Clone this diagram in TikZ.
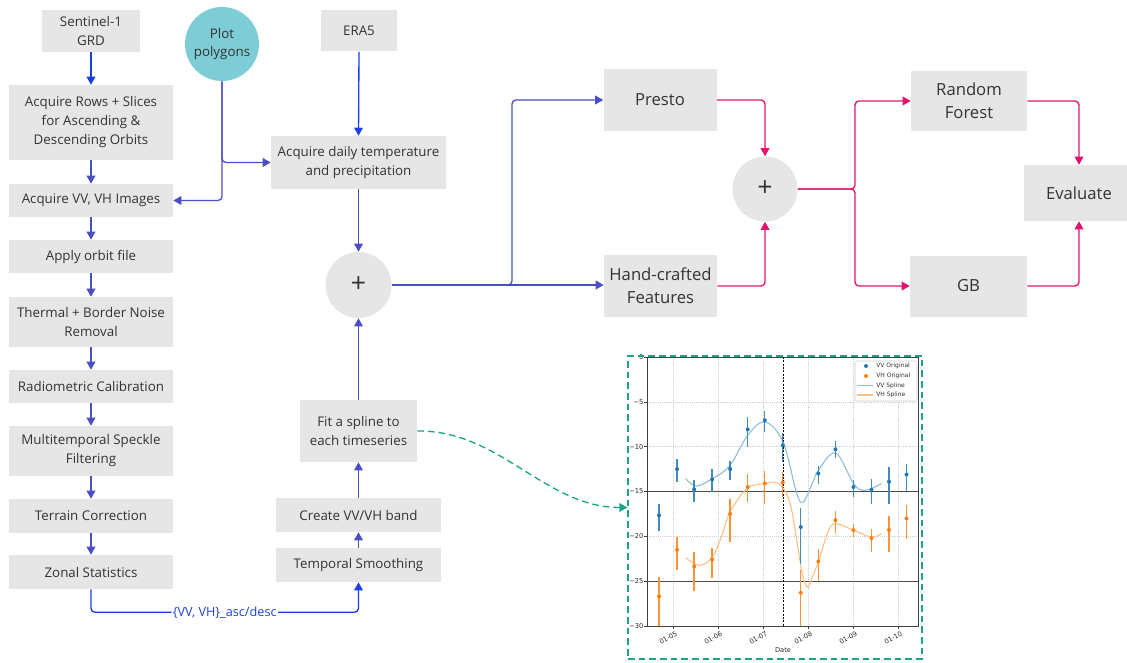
\documentclass[tikz,border=0pt]{standalone}
\usepackage{fontspec}
\setmainfont{Open Sans}
\newfontfamily\plotfont{DejaVu Sans}
\usetikzlibrary{arrows.meta}
\definecolor{boxgray}{HTML}{E6E6E6}
\definecolor{textdark}{HTML}{333333}
\definecolor{indigo}{HTML}{4A4FC4}
\definecolor{vivid}{HTML}{1D40E6}
\definecolor{pinkc}{HTML}{E3146B}
\definecolor{tealc}{HTML}{7ECDD6}
\definecolor{greenc}{HTML}{1BA584}
\definecolor{mplblue}{HTML}{1F77B4}
\definecolor{mplorange}{HTML}{FF7F0E}
\definecolor{gridc}{HTML}{D0D0D0}
\def\u{0.75pt}
\tikzset{
  box/.style={fill=boxgray, text=textdark, align=center, inner sep=0pt,
    font=\fontsize{10}{14.25}\selectfont},
  bigbox/.style={box, font=\fontsize{12.5}{17.25}\selectfont},
  plusc/.style={circle, fill=boxgray, text=textdark, inner sep=0pt,
    font=\fontsize{20}{20}\selectfont},
  tip/.style={-{Triangle[length=6pt,width=6.5pt]}},
  ind/.style={draw=indigo, line width=1pt, tip, rounded corners=3pt},
  viv/.style={draw=vivid, line width=1pt, tip, rounded corners=3pt},
  pk/.style={draw=pinkc, line width=1pt, tip, rounded corners=3pt},
  ticklab/.style={font=\plotfont\fontsize{5}{6}\selectfont, text=black!85, inner sep=0.5pt},
  leglab/.style={font=\plotfont\fontsize{4.5}{5}\selectfont, text=black!80, inner sep=0pt, anchor=west},
}
\begin{document}
\begin{tikzpicture}[x=0.75pt,y=-0.75pt]
\useasboundingbox (0,0) rectangle (1127,663);

% ---------- left column ----------
\node[box, minimum width=98*\u, minimum height=42*\u] (s1) at (91,31) {Sentinel-1\\GRD};
\node[circle, fill=tealc, text=textdark, inner sep=0pt, minimum size=74*\u, align=center,
  font=\fontsize{10}{14}\selectfont] (pp) at (222,44) {Plot\\polygons};
\node[box, minimum width=76*\u, minimum height=41*\u] (era) at (359,31) {ERA5};
\node[box, minimum width=164*\u, minimum height=75*\u] (rows) at (91,122.5) {Acquire Rows + Slices\\for Ascending \&\\Descending Orbits};
\node[box, minimum width=164*\u, minimum height=33*\u] (vv) at (91,200.5) {Acquire VV, VH Images};
\node[box, minimum width=175*\u, minimum height=53*\u] (daily) at (358.5,162.5) {Acquire daily temperature\\and precipitation};
\node[box, minimum width=164*\u, minimum height=33*\u] (orbit) at (91,256.5) {Apply orbit file};
\node[box, minimum width=164*\u, minimum height=50*\u] (therm) at (91,322) {Thermal + Border Noise\\Removal};
\node[box, minimum width=164*\u, minimum height=33*\u] (radio) at (91,386.5) {Radiometric Calibration};
\node[box, minimum width=164*\u, minimum height=50*\u] (speck) at (91,451) {Multitemporal Speckle\\Filtering};
\node[box, minimum width=164*\u, minimum height=34*\u] (terr) at (91,516) {Terrain Correction};
\node[box, minimum width=164*\u, minimum height=34*\u] (zonal) at (91,572) {Zonal Statistics};

% ---------- middle column ----------
\node[plusc, minimum size=66*\u] (p1) at (358.5,285) {+};
\node[box, minimum width=117*\u, minimum height=62*\u] (fit) at (358.5,431) {Fit a spline to\\each timeseries};
\node[box, minimum width=165*\u, minimum height=34*\u] (create) at (358.5,515) {Create VV/VH band};
\node[box, minimum width=165*\u, minimum height=34*\u] (temp) at (358.5,565) {Temporal Smoothing};

% ---------- right part ----------
\node[bigbox, minimum width=113*\u, minimum height=62*\u] (presto) at (660,100) {Presto};
\node[bigbox, minimum width=113*\u, minimum height=62*\u] (hand) at (660.5,286) {Hand-crafted\\Features};
\node[plusc, minimum size=65*\u] (p2) at (765,189) {+};
\node[bigbox, minimum width=116*\u, minimum height=60*\u] (rf) at (969,101) {Random\\Forest};
\node[bigbox, minimum width=117*\u, minimum height=61*\u] (gb) at (968.5,286) {GB};
\node[bigbox, minimum width=110*\u, minimum height=56*\u] (eval) at (1079,193) {Evaluate};

% ---------- connectors ----------
\draw[viv] (s1.south) -- (rows.north);
\draw[ind] (rows.south) -- (vv.north);
\draw[ind] (vv.south) -- (orbit.north);
\draw[ind] (orbit.south) -- (therm.north);
\draw[ind] (therm.south) -- (radio.north);
\draw[ind] (radio.south) -- (speck.north);
\draw[ind] (speck.south) -- (terr.north);
\draw[ind] (terr.south) -- (zonal.north);
\draw[ind] (pp.south) |- (vv.east);
\draw[ind] (pp.south) |- (daily.west);
\draw[viv] (era.south) -- (daily.north);
\draw[ind] (daily.south) -- (p1.north);
\draw[ind] (fit.north) -- (p1.south);
\draw[ind] (create.north) -- (fit.south);
\draw[ind] (temp.north) -- (create.south);
\draw[viv] (zonal.south) -- ++(0,23) coordinate (zb)
  -- node[fill=white, inner sep=1pt, text=vivid, font=\fontsize{9.5}{11}\selectfont] (lbl) {\{VV, VH\}\_asc/desc}
  (zb -| temp.south) -- (temp.south);
\coordinate (sp1) at (512,285);
\draw[ind] (p1.east) -- (sp1) |- (presto.west);
\draw[ind] (p1.east) -- (p1.east -| hand.west);
\draw[pk] (presto.east) -| (p2.north);
\draw[pk] (hand.east) -| (p2.south);
\coordinate (sp2) at (855,189);
\draw[pk] (p2.east) -- (sp2) |- (rf.west);
\draw[pk] (p2.east) -- (sp2) |- (gb.west);
\draw[pk] (rf.east) -| (eval.north);
\draw[pk] (gb.east) -| (eval.south);

% ---------- chart ----------
\begin{scope}[shift={(448,357)}, x=33.75pt, y=6.725pt]
  \foreach \m in {5,...,10} \draw[gridc, densely dotted, line width=0.4pt] (\m,0) -- (\m,-30);
  \foreach \v in {-5,-10,-20} \draw[gridc, densely dotted, line width=0.4pt] (4.422,\v) -- (10.444,\v);
  \draw[black!70, line width=0.7pt] (4.422,-15) -- (10.444,-15);
  \draw[black!70, line width=0.7pt] (4.422,-25) -- (10.444,-25);
  \draw[black, dash pattern=on 1.5pt off 1pt, line width=0.5pt] (7.444,0) -- (7.444,-30);
  \begin{scope}
    \clip (4.422,0) rectangle (10.444,-30);
    \draw[mplblue!50!white, line width=0.8pt] plot[smooth, tension=0.6] coordinates {
      (5.281,-13.57) (5.519,-14.39) (5.874,-13.57) (6.267,-12.08) (6.659,-8.74) (7.044,-7.25)
      (7.444,-9.48) (7.741,-15.06) (7.889,-16.17) (8.111,-13.94) (8.230,-12.64) (8.615,-10.71)
      (9.015,-14.13) (9.259,-14.87) (9.63,-14.13)};
    \draw[mplorange!50!white, line width=0.8pt] plot[smooth, tension=0.6] coordinates {
      (5.281,-22.38) (5.593,-23.23) (5.874,-22.30) (6.074,-20.07) (6.267,-17.29) (6.659,-14.61)
      (7.044,-14.13) (7.259,-13.94) (7.444,-14.61) (7.630,-16.91) (7.852,-23.61) (7.985,-25.65)
      (8.111,-24.35) (8.230,-22.86) (8.444,-19.52) (8.615,-18.59) (9.015,-19.33) (9.407,-20.07)
      (9.630,-19.70)};
    \foreach \m/\v/\lo/\hi in {4.69/-17.66/-16.4/-19.4, 5.09/-12.5/-11.4/-13.9, 5.47/-14.76/-13.7/-16.2,
      5.87/-13.64/-12.5/-15.1, 6.27/-12.5/-11.6/-13.75, 6.66/-8.07/-6.7/-10.0, 7.04/-7.06/-6.0/-8.4,
      7.44/-9.85/-8.5/-11.7, 7.84/-18.96/-16.8/-23.05, 8.23/-13.0/-12.1/-14.2, 8.61/-10.3/-9.4/-11.3,
      9.01/-14.5/-13.75/-15.6, 9.41/-14.8/-13.6/-16.4, 9.80/-13.9/-12.3/-16.4, 10.19/-13.1/-11.9/-14.9}{
      \draw[mplblue!85!white, line width=1pt] (\m,\lo) -- (\m,\hi);
      \fill[mplblue] (\m,\v) circle[radius=1.5pt];
    }
    \foreach \m/\v/\lo/\hi in {4.69/-26.7/-24.5/-30.5, 5.09/-21.5/-20.1/-23.7, 5.47/-23.35/-21.7/-26.1,
      5.87/-22.6/-21.3/-24.6, 6.27/-17.5/-15.8/-20.6, 6.66/-14.5/-13.1/-16.2, 7.04/-14.1/-12.7/-16.4,
      7.44/-14.0/-12.8/-15.6, 7.84/-26.3/-23.7/-30.5, 8.23/-22.8/-21.45/-25.0, 8.61/-18.2/-17.2/-19.6,
      9.01/-19.3/-18.6/-20.1, 9.41/-20.2/-19.2/-21.75, 9.80/-19.3/-17.7/-21.75, 10.19/-18.0/-16.5/-20.3}{
      \draw[mplorange!85!white, line width=1pt] (\m,\lo) -- (\m,\hi);
      \fill[mplorange] (\m,\v) circle[radius=1.5pt];
    }
  \end{scope}
  \draw[black!75, line width=0.5pt] (4.422,0) rectangle (10.444,-30);
  \foreach \v/\t in {0/0,-5/−5,-10/−10,-15/−15,-20/−20,-25/−25,-30/−30}{
    \draw[black!75, line width=0.4pt] (4.422,\v) -- ++(-2pt,0);
    \node[ticklab, anchor=east] (yl\v) at ([xshift=-2pt]4.422,\v) {\t};
  }
  \foreach \m/\t in {5/01-05,6/01-06,7/01-07,8/01-08,9/01-09,10/01-10}{
    \draw[black!75, line width=0.4pt] (\m,-30) -- ++(0,-2pt);
    \node[ticklab, anchor=north east, rotate=30] (xl\m) at ([xshift=2pt,yshift=-2.5pt]\m,-30) {\t};
  }
\end{scope}
\node[ticklab] (datelbl) at (783,650) {Date};
% legend
\draw[gray!40, fill=white, rounded corners=1.5pt, line width=0.4pt] (855,361) rectangle (917,401);
\fill[mplblue] (866,366) circle[radius=1.5pt];
\node[leglab] (l1) at (876,366) {VV Original};
\fill[mplorange] (866,376) circle[radius=1.5pt];
\node[leglab] (l2) at (876,376) {VH Original};
\draw[mplblue!50!white, line width=0.8pt] (857,385.5) -- (873,385.5);
\node[leglab] (l3) at (876,385.5) {VV Spline};
\draw[mplorange!50!white, line width=0.8pt] (857,395) -- (873,395);
\node[leglab] (l4) at (876,395) {VH Spline};

% green dashed frame and connector
\node[draw=greenc, line width=1pt, dash pattern=on 5pt off 3pt, minimum width=294*\u, minimum height=303*\u,
  inner sep=0pt] (chart) at (775,507.5) {};
\draw[greenc, line width=1pt, dash pattern=on 5pt off 3pt, -{Triangle[length=6pt,width=6.5pt]}]
  (fit.east) .. controls (500,430) and (545,507.5) .. (chart.west);
\end{tikzpicture}
\end{document}
